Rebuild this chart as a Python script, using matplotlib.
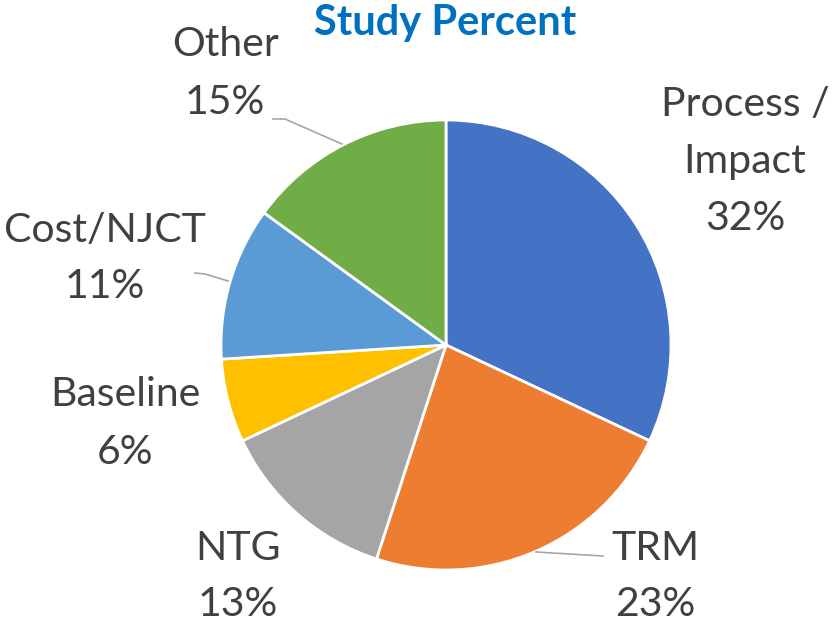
import matplotlib
matplotlib.use('Agg')
import matplotlib.pyplot as plt

# Slice data (clockwise from 12 o'clock)
categories = ['Process / Impact', 'TRM', 'NTG', 'Baseline', 'Cost/NJCT', 'Other']
percents = [32, 23, 13, 6, 11, 15]
colors = ['#4472C4', '#ED7D31', '#A5A5A5', '#FFC000', '#5B9BD5', '#70AD47']

# Label lines as shown on the chart, with their centre positions (pixels from top-left)
label_lines = [['Process /', 'Impact'], ['TRM'], ['NTG'], ['Baseline'], ['Cost/NJCT'], ['Other']]
label_pos = [(745, 105), (655, 548), (238, 548), (125, 395), (105, 230), (225, 45)]

# Leader lines (pixels from top-left), only for some labels
leaders = {
    'Other': [(273, 119), (285, 119), (342, 144)],
    'Cost/NJCT': [(195, 273), (205, 274), (228, 281)],
    'TRM': [(603, 556), (536, 552)],
}

W, H = 836, 624
text_color = '#404040'
plt.rcParams['font.family'] = ['Lato', 'DejaVu Sans']

fig = plt.figure(figsize=(W / 100, H / 100), dpi=100)
ax = fig.add_axes([0, 0, 1, 1])

ax.pie(percents, colors=colors, startangle=90, counterclock=False,
       center=(446, H - 345), radius=225,
       wedgeprops=dict(edgecolor='white', linewidth=2))

ax.set_xlim(0, W)
ax.set_ylim(0, H)
ax.set_aspect('equal')
ax.axis('off')

line_gap = 57
for cat, lines, (x, y), pct in zip(categories, label_lines, label_pos, percents):
    all_lines = lines + [f'{pct}%']
    for i, s in enumerate(all_lines):
        ax.text(x, H - (y + i * line_gap), s, fontsize=29.5, color=text_color,
                ha='center', va='center')

for cat, pts in leaders.items():
    xs = [p[0] for p in pts]
    ys = [H - p[1] for p in pts]
    ax.plot(xs, ys, color='#A6A6A6', linewidth=1.2)

ax.text(445, H - 23, 'Study Percent', fontsize=30, fontweight='bold',
        color='#0070C0', ha='center', va='center')

fig.savefig('out.png', dpi=100)
